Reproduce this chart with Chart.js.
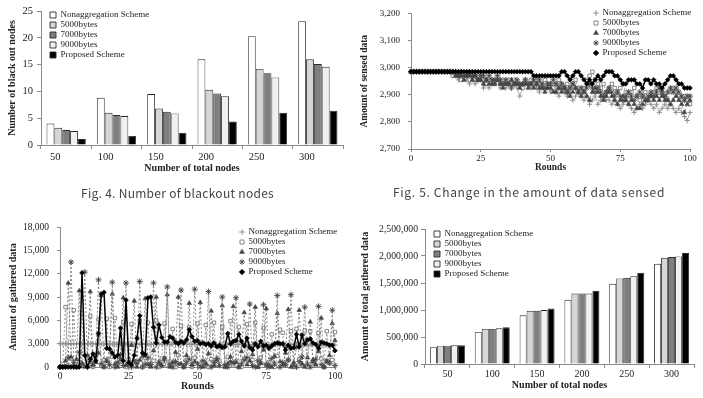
<!DOCTYPE html>
<html><head><meta charset="utf-8">
<script src="https://cdn.jsdelivr.net/npm/chart.js@4.4.1/dist/chart.umd.min.js"></script>
<style>
html,body{margin:0;padding:0;background:#fff;width:703px;height:398px;overflow:hidden;position:relative;}
canvas{position:absolute;}
.cap{position:absolute;white-space:nowrap;font-family:'Noto Sans CJK KR','Noto Sans',sans-serif;font-size:12px;line-height:14px;color:#444;}
</style></head><body>
<canvas id="c1" width="350" height="180" style="left:0;top:0"></canvas>
<canvas id="c2" width="353" height="180" style="left:350px;top:0"></canvas>
<canvas id="c3" width="350" height="198" style="left:0;top:200px"></canvas>
<canvas id="c4" width="353" height="198" style="left:350px;top:200px"></canvas>
<div class="cap" id="cap1">Fig. 4. Number of blackout nodes</div>
<div class="cap" id="cap2">Fig. 5. Change in the amount of data sensed</div>
<script>
// ---------- DATA ----------
const seriesNames = ['Nonaggregation Scheme','5000bytes','7000bytes','9000bytes','Proposed Scheme'];
const nodeCategories = ['50','100','150','200','250','300'];

// Fig. 4 : number of blackout nodes
const blackNonagg = [4.0, 8.8, 9.5, 16.0, 20.3, 23.1];
const black5000   = [3.2, 6.0, 6.8, 10.3, 14.2, 16.0];
const black7000   = [2.8, 5.6, 6.2, 9.6, 13.4, 15.1];
const black9000   = [2.6, 5.4, 5.9, 9.1, 12.6, 14.6];
const blackProp   = [1.1, 1.7, 2.3, 4.4, 6.0, 6.4];

// Fig. 5 : amount of sensed data per round (rounds 0..100)
const rounds = Array.from({length: 101}, (_, i) => i);
const sensedNonagg = [
2985,2985,2985,2985,2985,2985,2985,2985,2985,2985,
2985,2985,2985,2985,2985,2970,2970,2955,2970,2955,
2955,2940,2955,2940,2955,2955,2925,2940,2925,2940,
2940,2955,2925,2940,2925,2940,2955,2940,2925,2895,
2925,2940,2940,2925,2940,2925,2910,2940,2925,2925,
2910,2925,2910,2895,2925,2910,2895,2910,2880,2895,
2910,2895,2880,2895,2865,2880,2895,2865,2880,2895,
2880,2880,2865,2880,2865,2850,2865,2880,2865,2850,
2835,2850,2865,2850,2865,2880,2865,2850,2865,2835,
2850,2865,2850,2865,2850,2835,2850,2835,2820,2805,
2835];
const sensed5000 = [
2985,2985,2985,2985,2985,2985,2985,2985,2985,2985,
2985,2985,2985,2985,2985,2970,2970,2970,2955,2970,
2970,2955,2970,2955,2970,2955,2955,2940,2955,2955,
2940,2955,2940,2955,2940,2955,2940,2955,2940,2940,
2925,2955,2940,2955,2940,2955,2940,2925,2955,2940,
2940,2925,2940,2955,2940,2925,2940,2925,2940,2955,
2925,2910,2925,2955,2970,2985,2955,2940,2925,2940,
2910,2925,2940,2925,2910,2925,2940,2910,2895,2910,
2925,2895,2880,2895,2910,2880,2895,2910,2925,2895,
2910,2895,2880,2910,2925,2910,2895,2880,2895,2880,
2865];
const sensed7000 = [
2985,2985,2985,2985,2985,2985,2985,2985,2985,2985,
2985,2985,2985,2985,2985,2985,2970,2970,2970,2955,
2970,2970,2955,2970,2955,2955,2940,2955,2940,2940,
2940,2955,2940,2925,2940,2940,2955,2940,2940,2925,
2940,2940,2925,2940,2925,2940,2925,2925,2910,2925,
2925,2910,2910,2925,2910,2925,2910,2895,2910,2925,
2910,2895,2910,2895,2880,2910,2925,2910,2895,2880,
2895,2910,2895,2880,2865,2880,2895,2880,2865,2880,
2865,2850,2850,2865,2880,2880,2895,2880,2895,2880,
2895,2880,2880,2865,2880,2895,2880,2865,2835,2865,
2880];
const sensed9000 = [
2985,2985,2985,2985,2985,2985,2985,2985,2985,2985,
2985,2985,2985,2985,2985,2985,2985,2970,2985,2970,
2970,2985,2970,2970,2955,2970,2970,2955,2970,2955,
2955,2970,2955,2940,2955,2940,2925,2940,2955,2940,
2940,2955,2940,2940,2955,2940,2955,2940,2925,2940,
2940,2955,2940,2925,2940,2925,2910,2925,2940,2925,
2910,2925,2910,2925,2940,2925,2910,2925,2910,2895,
2910,2925,2910,2895,2910,2895,2880,2895,2910,2895,
2880,2895,2910,2895,2880,2895,2910,2895,2910,2925,
2910,2895,2910,2925,2910,2925,2910,2895,2880,2895,
2895];
const sensedProp = [
2985,2985,2985,2985,2985,2985,2985,2985,2985,2985,
2985,2985,2985,2985,2985,2985,2985,2985,2985,2985,
2985,2985,2985,2985,2985,2985,2985,2985,2985,2985,
2985,2985,2985,2985,2985,2985,2985,2985,2985,2985,
2985,2985,2985,2985,2970,2970,2970,2970,2970,2970,
2970,2970,2970,2970,2985,2985,2970,2955,2970,2985,
2985,2970,2955,2940,2955,2940,2955,2970,2955,2970,
2985,2985,2985,2970,2970,2955,2940,2940,2955,2955,
2955,2940,2940,2925,2955,2955,2940,2955,2940,2940,
2925,2940,2955,2970,2970,2955,2940,2940,2925,2925,
2925];

// Amount of gathered data per round (rounds 0..100)
const gathNonagg = [
2985,2985,2985,2985,2985,2985,2985,2985,2985,2985,
2985,2985,2985,2985,2985,2970,2970,2955,2970,2955,
2955,2940,2955,2940,2955,2955,2925,2940,2925,2940,
2940,2955,2925,2940,2925,2940,2955,2940,2925,2895,
2925,2940,2940,2925,2940,2925,2910,2940,2925,2925,
2910,2925,2910,2895,2925,2910,2895,2910,2880,2895,
2910,2895,2880,2895,2865,2880,2895,2865,2880,2895,
2880,2880,2865,2880,2865,2850,2865,2880,2865,2850,
2835,2850,2865,2850,2865,2880,2865,2850,2865,2835,
2850,2865,2850,2865,2850,2835,2850,2835,2820,2805,
2835];
const gath5000 = [
0,400,7700,200,1100,7300,0,600,6900,300,
1400,6500,0,800,6100,200,900,6200,0,1300,
6300,400,700,5800,0,1000,5500,300,600,5900,
0,1200,5700,400,800,6000,0,1100,5600,300,
700,4900,0,1500,5300,200,900,5100,0,1200,
5600,400,600,5400,0,1000,5700,300,800,5200,
0,1300,5900,200,700,5150,0,1100,5500,400,
900,5700,0,1200,5000,300,600,4200,0,1400,
4800,4400,200,900,4600,0,4900,1000,300,4700,
0,4600,800,200,4400,1100,0,4600,500,900,
4500];
const gath7000 = [
0,0,800,10800,1300,200,1000,9800,500,0,
1500,9700,300,600,1800,9200,0,700,2400,9400,
400,0,1600,8900,200,500,2800,8500,0,900,
1400,8800,300,0,2100,9000,500,200,1200,9300,
0,600,1900,9000,400,0,1500,8200,300,700,
2300,8300,0,500,1700,7200,200,900,2600,7900,
0,400,1300,7800,600,0,2000,7000,300,800,
1600,7700,0,500,2200,7500,200,0,1400,6900,
700,300,1800,7400,0,600,2500,7300,400,0,
1200,5800,900,300,2000,6300,0,700,1500,5600,
3400];
const gath9000 = [
0,0,0,1200,13500,600,0,1900,300,12200,
0,700,200,1500,11200,400,0,900,300,10900,
0,600,1100,200,10800,300,0,800,500,11000,
0,400,1200,300,10800,0,600,200,900,10300,
300,0,700,400,9900,0,500,1000,200,10000,
400,0,800,300,9700,0,600,1100,200,9000,
300,0,700,500,8900,0,400,900,1200,8100,
200,0,800,500,8000,300,0,1100,400,9200,
0,600,300,900,9300,200,0,700,1300,7700,
400,0,600,1000,7800,300,0,800,500,7300,
200];
const gathProp = [
0,0,0,0,0,0,0,0,12100,1500,
0,1000,1700,800,4300,9400,9600,2400,2300,1800,
1300,1500,5000,800,8600,600,300,1500,3700,6600,
1800,1600,8900,9000,5100,3100,5400,3800,3200,3200,
3900,3700,3200,3000,3300,3100,3500,4800,3900,3300,
3400,3000,3100,2900,3000,2700,3100,2600,2800,2500,
2600,4300,3000,3300,3400,4200,3300,2700,3700,2500,
2200,3000,2600,3300,2700,2800,2400,2700,3000,3100,
3000,3000,2200,2800,2400,2500,4200,2600,4100,3000,
3500,3600,3100,2900,2400,3200,3100,3000,2800,2800,
2100];

// Amount of total gathered data
const totNonagg = [309000, 594000, 903000, 1188000, 1485000, 1856000];
const tot5000   = [340000, 650000, 984000, 1306000, 1584000, 1968000];
const tot7000   = [340000, 650000, 984000, 1306000, 1597000, 1980000];
const tot9000   = [347000, 662000, 1000000, 1306000, 1627000, 1993000];
const totProp   = [347000, 680000, 1027000, 1355000, 1689000, 2054000];

// ---------- STYLE / HELPERS ----------
Chart.defaults.font.family = "'Liberation Serif','Times New Roman',serif";
Chart.defaults.color = '#222';
const AX = '#8a8a8a';
const fmt = v => Number(v).toLocaleString('en-US');

function legendAt(x, y) {
  return { id: 'legendAt', afterLayout(chart) {
    const L = chart.legend; if (!L) return;
    const w = L.width, h = L.height;
    L.left = x; L.top = y; L.right = x + w + 20; L.bottom = y + h;
  }};
}
function legendOpts(pointStyle) {
  return {
    position: 'chartArea', align: 'start',
    labels: pointStyle
      ? {usePointStyle: true, boxWidth: 4, boxHeight: 4, padding: 1, font: {size: 9}, color: '#222',
         sort: (a, b) => a.datasetIndex - b.datasetIndex}
      : {boxWidth: 6, boxHeight: 6, padding: 1, font: {size: 9}, color: '#222'}
  };
}
const barColors = ['#ffffff', '#d6d6d6', '#7f7f7f', '#f0f0f0', '#000000'];
function barSets(arrs) {
  return arrs.map((a, i) => ({label: seriesNames[i], data: a, backgroundColor: barColors[i],
    borderColor: '#2a2a2a', borderWidth: 0.9, categoryPercentage: 0.78, barPercentage: 1}));
}
const lineStyles = [
  {borderColor: '#aaaaaa', borderWidth: 0.9, pointStyle: 'cross', pointRadius: 2.6, pointBorderColor: '#8e8e8e', pointBackgroundColor: '#8e8e8e', pointBorderWidth: 1, order: 4},
  {borderColor: '#8e8e8e', borderWidth: 0.9, borderDash: [2, 2], pointStyle: 'rect', pointRadius: 2.4, pointBorderColor: '#7a7a7a', pointBackgroundColor: '#ffffff', pointBorderWidth: 0.9, order: 3},
  {borderColor: '#7a7a7a', borderWidth: 0.9, borderDash: [2, 2], pointStyle: 'triangle', pointRadius: 2.6, pointBorderColor: '#444', pointBackgroundColor: '#444', pointBorderWidth: 0.6, order: 2},
  {borderColor: '#7e7e7e', borderWidth: 0.9, borderDash: [2, 2], pointStyle: 'star', pointRadius: 3, pointBorderColor: '#444', pointBackgroundColor: '#444', pointBorderWidth: 0.9, order: 1},
  {borderColor: '#000', borderWidth: 1.5, pointStyle: 'rectRot', pointRadius: 2.4, pointBorderColor: '#000', pointBackgroundColor: '#000', pointBorderWidth: 0.6, order: 0}
];
function lineSets(arrs) {
  return arrs.map((a, i) => Object.assign({label: seriesNames[i], data: a.map((y, k) => ({x: rounds[k], y})),
    fill: false, tension: 0, clip: 6}, lineStyles[i]));
}
function axisTitle(text, size, pad) {
  return {display: true, text, font: {size, weight: 'bold'}, color: '#222', padding: pad};
}
const base = {responsive: false, animation: false, events: []};

// ---------- Fig. 4 ----------
new Chart(document.getElementById('c1'), {
  type: 'bar',
  data: {labels: nodeCategories, datasets: barSets([blackNonagg, black5000, black7000, black9000, blackProp])},
  options: Object.assign({}, base, {
    layout: {padding: {left: 0, right: 7, top: 11, bottom: 5}},
    plugins: {legend: legendOpts(false), tooltip: {enabled: false}},
    scales: {
      x: {grid: {drawOnChartArea: false, offset: true, tickLength: 4, color: AX}, border: {color: AX},
          ticks: {font: {size: 10.5}, color: '#222', padding: 2, labelOffset: -11, maxRotation: 0},
          title: axisTitle('Number of total nodes', 10, {top: 0, bottom: 1}),
          afterFit: s => { s.height = 30; }},
      y: {min: 0, max: 25, ticks: {stepSize: 5, font: {size: 10.5}, color: '#222', padding: 4},
          grid: {drawOnChartArea: false, tickLength: 4, color: AX}, border: {color: AX},
          title: axisTitle('Number of black out nodes', 10, {top: 6, bottom: 0}),
          afterFit: s => { s.width = 41; }}
    }
  }),
  plugins: [legendAt(49, 9.5)]
});

// ---------- Fig. 5 ----------
new Chart(document.getElementById('c2'), {
  type: 'line',
  data: {datasets: lineSets([sensedNonagg, sensed5000, sensed7000, sensed9000, sensedProp])},
  options: Object.assign({}, base, {
    layout: {padding: {left: 0, right: 13, top: 9, bottom: 5}},
    plugins: {legend: legendOpts(true), tooltip: {enabled: false}},
    scales: {
      x: {type: 'linear', min: 0, max: 100, ticks: {stepSize: 25, font: {size: 9}, color: '#222', padding: 1, maxRotation: 0},
          grid: {drawOnChartArea: false, tickLength: 3, color: AX}, border: {color: AX},
          title: axisTitle('Rounds', 9.5, {top: 0, bottom: 1.3}),
          afterFit: s => { s.height = 26; }},
      y: {min: 2700, max: 3200, ticks: {stepSize: 100, font: {size: 9}, color: '#222', padding: 8, callback: fmt},
          grid: {drawOnChartArea: false, tickLength: 3, color: AX}, border: {color: AX},
          title: axisTitle('Amount of sensed data', 9.5, {top: 9.3, bottom: 0}),
          afterFit: s => { s.width = 61; }}
    }
  }),
  plugins: [legendAt(243, 7.5)]
});

// ---------- gathered data ----------
new Chart(document.getElementById('c3'), {
  type: 'line',
  data: {datasets: lineSets([gathNonagg, gath5000, gath7000, gath9000, gathProp])},
  options: Object.assign({}, base, {
    layout: {padding: {left: 0, right: 15, top: 27, bottom: 5}},
    plugins: {legend: legendOpts(true), tooltip: {enabled: false}},
    scales: {
      x: {type: 'linear', min: 0, max: 100, ticks: {stepSize: 25, font: {size: 9.5}, color: '#222', padding: 0.5, maxRotation: 0},
          grid: {drawOnChartArea: false, tickLength: 3, color: AX}, border: {color: AX},
          title: axisTitle('Rounds', 10, {top: 0, bottom: 1}),
          afterFit: s => { s.height = 26; }},
      y: {min: 0, max: 18000, ticks: {stepSize: 3000, font: {size: 9.5}, color: '#222', padding: 8, callback: fmt},
          grid: {drawOnChartArea: false, tickLength: 3, color: AX}, border: {color: AX},
          title: axisTitle('Amount of gathered data', 10, {top: 7, bottom: 0}),
          afterFit: s => { s.width = 60; }}
    }
  }),
  plugins: [legendAt(239, 26.5)]
});

// ---------- total gathered data ----------
new Chart(document.getElementById('c4'), {
  type: 'bar',
  data: {labels: nodeCategories, datasets: barSets([totNonagg, tot5000, tot7000, tot9000, totProp])},
  options: Object.assign({}, base, {
    layout: {padding: {left: 0, right: 9, top: 29, bottom: 6}},
    plugins: {legend: legendOpts(false), tooltip: {enabled: false}},
    scales: {
      x: {grid: {drawOnChartArea: false, offset: true, tickLength: 4, color: AX}, border: {color: AX},
          ticks: {font: {size: 10}, color: '#222', padding: 0, maxRotation: 0},
          title: axisTitle('Number of total nodes', 10, {top: 0, bottom: 1}),
          afterFit: s => { s.height = 28; }},
      y: {min: 0, max: 2500000, ticks: {stepSize: 500000, font: {size: 9.75}, color: '#222', padding: 3, callback: fmt},
          grid: {drawOnChartArea: false, tickLength: 4, color: AX}, border: {color: AX},
          title: axisTitle('Amount of total gathered data', 10, {top: 9, bottom: 0}),
          afterFit: s => { s.width = 75; }}
    }
  }),
  plugins: [legendAt(83, 28.5)]
});

// ---------- captions ----------
function placeCap(id, cx, cy, target) {
  const el = document.getElementById(id);
  const n = el.textContent.length;
  const w = el.getBoundingClientRect().width;
  el.style.letterSpacing = ((target - w) / n) + 'px';
  const r = el.getBoundingClientRect();
  el.style.left = (cx - r.width / 2) + 'px';
  el.style.top = (cy - r.height / 2) + 'px';
}
placeCap('cap1', 177.5, 192.5, 193);
placeCap('cap2', 529, 192, 272);
</script>
</body></html>
